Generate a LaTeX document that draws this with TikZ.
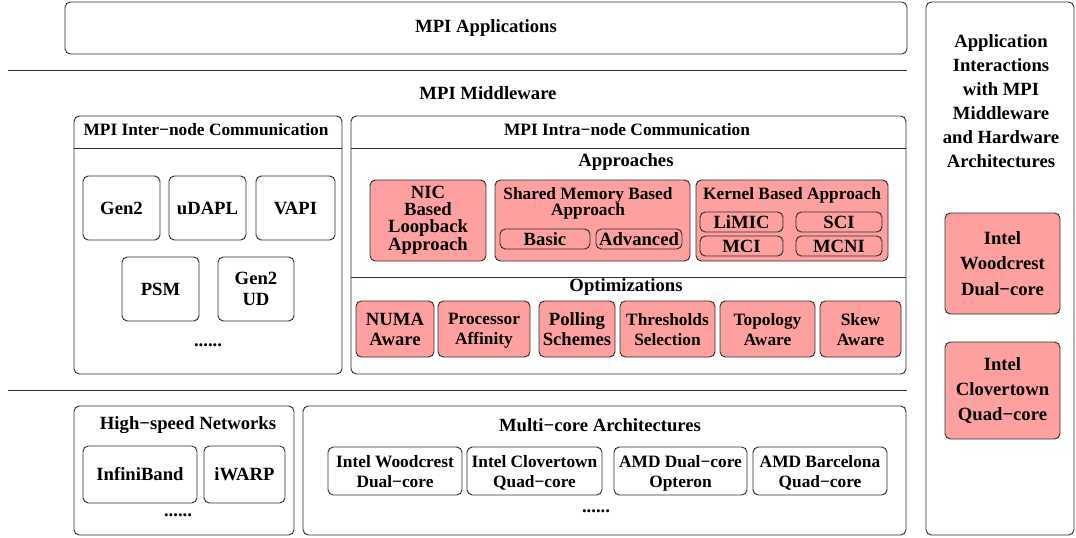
\documentclass[tikz,border=0pt]{standalone}
\usepackage{fontspec}
\setmainfont{Liberation Serif}
\usepackage{tikz}
\definecolor{boxred}{HTML}{FFA0A0}
\definecolor{edgegray}{HTML}{303030}

\begin{document}
\begin{tikzpicture}[x=0.75pt,y=-0.75pt,
    panel/.style={draw=edgegray, line width=0.7pt, rounded corners=4pt, inner sep=0pt},
    pxbox/.style 2 args={minimum width=#1*0.75pt, minimum height=#2*0.75pt},
    ubox/.style={panel, align=center, font=\bfseries\fontsize{14}{12.5}\selectfont},
    usmall/.style={panel, align=center, text depth=0pt, font=\bfseries\fontsize{13}{15}\selectfont},
    rbox/.style={ubox, fill=boxred},
    rsmall/.style={usmall, fill=boxred},
    headtxt/.style={align=center, inner sep=0pt, font=\bfseries\fontsize{14}{18}\selectfont},
    subtxt/.style={align=center, inner sep=0pt, font=\bfseries\fontsize{13}{12}\selectfont},
    sepline/.style={draw=edgegray, line width=0.7pt}]
                \useasboundingbox (0,0) rectangle (1076,537);

                % Applications layer
                \node[panel, pxbox={842}{52}, headtxt] (apps) at (486,28) {MPI Applications};
                \coordinate (sepa) at (8,70);
                \coordinate (sepb) at (907,70);
                \draw[sepline] (sepa) -- (sepb);%
                \node[headtxt] (mware) at (488,93) {MPI Middleware};

                % Inter-node panel
                \node[panel, pxbox={268}{258}] (inter) at (208,245) {};
                \draw[sepline] (inter.west |- 0,148) -- (inter.east |- 0,148);%
                \node[subtxt] (intertxt) at (206,130) {MPI Inter−node Communication};
                \node[ubox, pxbox={77}{64}] (gen2) at (121.5,208) {Gen2};
                \node[ubox, pxbox={77}{64}] (udapl) at (207.5,208) {uDAPL};
                \node[ubox, pxbox={79}{64}] (vapi) at (295.5,208) {VAPI};
                \node[ubox, pxbox={77}{64}] (psm) at (160.5,289) {PSM};
                \node[ubox, pxbox={76}{64}, font=\bfseries\fontsize{14}{16}\selectfont] (gen2ud) at (256,289) {Gen2\\UD};
                \node[headtxt] (interdots) at (208,345) {......};

                % Intra-node panel
                \node[panel, pxbox={555}{258}] (intra) at (628.5,245) {};
                \draw[sepline] (intra.west |- 0,148) -- (intra.east |- 0,148);%
                \draw[sepline] (intra.west |- 0,277) -- (intra.east |- 0,277);%
                \node[subtxt] (intratxt) at (627,130) {MPI Intra−node Communication};
                \node[headtxt] (apprtxt) at (626,162) {Approaches};

                % Approaches
                \node[rbox, pxbox={116}{81}] (nic) at (428,220.5) {NIC\\Based\\Loopback\\Approach};
                \node[rbox, pxbox={195}{81}] (shmem) at (592.5,220.5) {};
                \node[subtxt] (shmemtxt) at (588,203) {Shared Memory Based\\Approach};
                \node[rbox, pxbox={90}{20}] (basic) at (545,239) {Basic};
                \node[rbox, pxbox={86}{20}] (adv) at (639,239) {Advanced};
                \node[rbox, pxbox={192}{81}] (kernel) at (792,220.5) {};
                \node[subtxt] (kerneltxt) at (792,195) {Kernel Based Approach};
                \node[rbox, pxbox={83}{20}] (limic) at (741.5,222) {LiMIC};
                \node[rbox, pxbox={86}{20}] (sci) at (839,222) {SCI};
                \node[rbox, pxbox={83}{20}] (mci) at (741.5,246) {MCI};
                \node[rbox, pxbox={86}{20}] (mcni) at (839,246) {MCNI};

                % Optimizations
                \node[headtxt] (opttxt) at (626,287) {Optimizations};
                \node[rbox, pxbox={78}{56}, text depth=0pt, font=\bfseries\fontsize{14}{15}\selectfont] (numa) at (395,329) {NUMA\\Aware};
                \node[rsmall, pxbox={92}{56}] (affin) at (484,329) {Processor\\Affinity};
                \node[rbox, pxbox={76}{56}, text depth=0pt, font=\bfseries\fontsize{14}{15}\selectfont] (poll) at (577,329) {Polling\\Schemes};
                \node[rsmall, pxbox={95}{56}] (thresh) at (667.5,329) {Thresholds\\Selection};
                \node[rsmall, pxbox={95}{56}] (topo) at (767.5,329) {Topology\\Aware};
                \node[rsmall, pxbox={81}{56}] (skew) at (860.5,329) {Skew\\Aware};

                % Hardware layer
                \coordinate (sepc) at (8,390);
                \coordinate (sepd) at (907,390);
                \draw[sepline] (sepc) -- (sepd);%
                \node[panel, pxbox={220}{129}] (hsnet) at (184,470.5) {};
                \node[headtxt] (hsnettxt) at (188,425) {High−speed Networks};
                \node[ubox, pxbox={114}{57}] (ib) at (140,474.5) {InfiniBand};
                \node[ubox, pxbox={81}{57}] (iwarp) at (244.5,474.5) {iWARP};
                \node[headtxt] (hsdots) at (178,515) {......};

                \node[panel, pxbox={603}{129}] (mcore) at (604.5,470.5) {};
                \node[headtxt] (mcoretxt) at (600,425) {Multi−core Architectures};
                \node[usmall, pxbox={134}{48}] (woodc) at (395,471) {Intel Woodcrest\\Dual−core};
                \node[usmall, pxbox={135}{48}] (clovt) at (534.5,471) {Intel Clovertown\\Quad−core};
                \node[usmall, pxbox={133}{48}] (amddc) at (680.5,471) {AMD Dual−core\\Opteron};
                \node[usmall, pxbox={134}{48}] (amdbc) at (820,471) {AMD Barcelona\\Quad−core};
                \node[headtxt] (mcdots) at (596,511) {......};

                % Interaction column
                \node[panel, pxbox={148}{533}] (interact) at (1000,268.5) {};
                \node[headtxt, font=\bfseries\fontsize{14}{18}\selectfont] (interacttxt) at (1001,101) {Application\\Interactions\\with MPI\\Middleware\\and Hardware\\Architectures};
                \node[rbox, pxbox={115}{101}, font=\bfseries\fontsize{14}{19}\selectfont] (rwoodc) at (1002.5,263.5) {Intel\\Woodcrest\\Dual−core};
                \node[rbox, pxbox={115}{97}, font=\bfseries\fontsize{14}{19}\selectfont] (rclovt) at (1002.5,390.5) {Intel\\Clovertown\\Quad−core};
            \end{tikzpicture}
\end{document}
